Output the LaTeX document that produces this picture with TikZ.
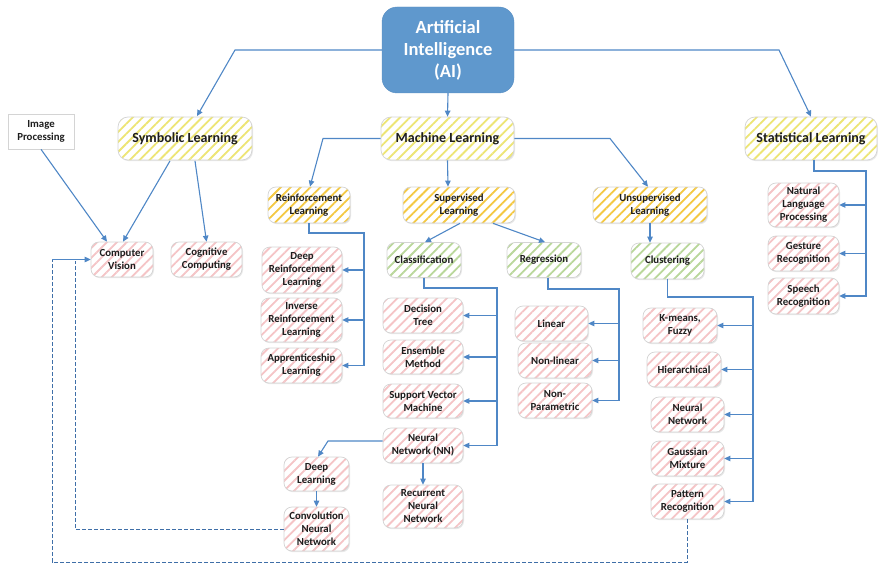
\documentclass[tikz,border=0pt]{standalone}
\usepackage{fontspec}
\setmainfont{Carlito}
\usetikzlibrary{patterns.meta,arrows.meta,shadows,calc}
\definecolor{aiblue}{HTML}{5F98CD}
\definecolor{aiborder}{HTML}{5A8FC2}
\definecolor{lineblue}{HTML}{4F87C6}
\definecolor{dashblue}{HTML}{3F6FA8}
\definecolor{boxborder}{HTML}{D4D4D4}
\definecolor{yelA}{HTML}{EDE574}
\definecolor{goldB}{HTML}{F4C842}
\definecolor{greenC}{HTML}{B9D79A}
\definecolor{pinkD}{HTML}{F5C4C6}
\definecolor{txt}{HTML}{1E1E1E}
\begin{document}
\begin{tikzpicture}[x=1pt,y=-1pt,
  base/.style={draw=boxborder, line width=0.7pt, align=center, inner sep=0pt,
    text=txt, drop shadow={shadow xshift=1pt, shadow yshift=-1.2pt, opacity=0.18, fill=gray},
    preaction={fill=white}},
  small/.style={font=\bfseries\fontsize{10.8}{13}\selectfont},
  stripes/.style={pattern={Lines[angle=45,distance=7pt,line width=1.8pt]}},
  lvA/.style={base, stripes, rounded corners=10pt, pattern color=yelA, font=\bfseries\fontsize{14}{16}\selectfont},
  lvB/.style={base, stripes, rounded corners=8pt, pattern color=goldB, small},
  lvC/.style={base, stripes, rounded corners=8pt, pattern color=greenC, small},
  leaf/.style={base, stripes, rounded corners=8pt, pattern color=pinkD, small},
  plainbox/.style={base, small},
  aibox/.style={draw=aiborder, fill=aiblue, rounded corners=15pt, align=center, inner sep=0pt,
    text=white, font=\bfseries\fontsize{18.5}{22}\selectfont},
  arr/.style={draw=lineblue, line width=1.1pt, -{Triangle[length=6pt,width=5.5pt]}},
  dline/.style={draw=dashblue, line width=0.9pt, dash pattern=on 4pt off 2pt}
]
\useasboundingbox (0,0) rectangle (878,567);

% top
\node[aibox, minimum width=132pt, minimum height=86pt] (ai) at (448,50) {Artificial\\Intelligence\\(AI)};

% level 1
\node[lvA, minimum width=134pt, minimum height=43pt] (sym) at (185,138.5) {Symbolic Learning};
\node[lvA, minimum width=133pt, minimum height=43pt] (ml) at (447.5,138.5) {Machine Learning};
\node[lvA, minimum width=132pt, minimum height=43pt] (stat) at (811,138.5) {Statistical Learning};
\node[plainbox, minimum width=66pt, minimum height=35pt] (ip) at (41,131.5) {Image\\Processing};

% level 2
\node[lvB, minimum width=82pt, minimum height=36pt] (rl) at (309,205) {Reinforcement\\Learning};
\node[lvB, minimum width=112pt, minimum height=36pt] (sup) at (459,205) {Supervised\\Learning};
\node[lvB, minimum width=114pt, minimum height=36pt] (unsup) at (650,205) {Unsupervised\\Learning};

% symbolic children
\node[leaf, minimum width=62pt, minimum height=35pt] (cv) at (122,259.5) {Computer\\Vision};
\node[leaf, minimum width=71pt, minimum height=35pt] (cog) at (206.5,259.5) {Cognitive\\Computing};

% statistical children
\node[leaf, minimum width=71pt, minimum height=44pt] (nlp) at (803.5,205) {Natural\\Language\\Processing};
\node[leaf, minimum width=71pt, minimum height=35pt] (ges) at (803.5,253.5) {Gesture\\Recognition};
\node[leaf, minimum width=71pt, minimum height=36pt] (sp) at (803.5,296) {Speech\\Recognition};

% level 3
\node[lvC, minimum width=74pt, minimum height=35pt] (cls) at (424,260) {Classification};
\node[lvC, minimum width=74pt, minimum height=35pt] (reg) at (544,260) {Regression};
\node[lvC, minimum width=73pt, minimum height=36pt] (clu) at (667.5,261) {Clustering};

% reinforcement children
\node[leaf, minimum width=80pt, minimum height=46pt] (drl) at (302,270) {Deep\\Reinforcement\\Learning};
\node[leaf, minimum width=81pt, minimum height=44pt] (irl) at (301.5,320) {Inverse\\Reinforcement\\Learning};
\node[leaf, minimum width=81pt, minimum height=35pt] (app) at (301.5,365.5) {Apprenticeship\\Learning};

% classification children
\node[leaf, minimum width=80pt, minimum height=35pt] (dt) at (423,315.5) {Decision\\Tree};
\node[leaf, minimum width=80pt, minimum height=34pt] (em) at (423,357) {Ensemble\\Method};
\node[leaf, minimum width=80pt, minimum height=34pt] (svm) at (423,401) {Support Vector\\Machine};
\node[leaf, minimum width=80pt, minimum height=35pt] (nn) at (423,445.5) {Neural\\Network (NN)};
\node[leaf, minimum width=80pt, minimum height=43pt] (rnn) at (423,506.5) {Recurrent\\Neural\\Network};
\node[leaf, minimum width=65pt, minimum height=34pt] (dl) at (316.5,474) {Deep\\Learning};
\node[leaf, minimum width=65pt, minimum height=44pt] (cnn) at (316.5,529) {Convolution\\Neural\\Network};

% regression children
\node[leaf, minimum width=73pt, minimum height=35pt] (lin) at (551.5,323.5) {Linear};
\node[leaf, minimum width=74pt, minimum height=35pt] (nlin) at (555,360.5) {Non-linear};
\node[leaf, minimum width=74pt, minimum height=35pt] (npar) at (555,400.5) {Non-\\Parametric};

% clustering children
\node[leaf, minimum width=74pt, minimum height=35pt] (km) at (680,325.5) {K-means,\\Fuzzy};
\node[leaf, minimum width=74pt, minimum height=35pt] (hier) at (684,369.5) {Hierarchical};
\node[leaf, minimum width=73pt, minimum height=35pt] (nnc) at (687.5,414.5) {Neural\\Network};
\node[leaf, minimum width=73pt, minimum height=35pt] (gau) at (687.5,458.5) {Gaussian\\Mixture};
\node[leaf, minimum width=73pt, minimum height=35pt] (pr) at (687.5,501.5) {Pattern\\Recognition};

% bus coordinates
\coordinate (rlbus) at (364,233);
\coordinate (clsbus) at (497,288);
\coordinate (regbus) at (619,289);
\coordinate (clubus) at (753,297);
\coordinate (statbus) at (866,171);
\coordinate (aiL) at (235,50);
\coordinate (aiR) at (779,50);
\coordinate (mlL) at (323,138.5);
\coordinate (mlR) at (610,138.5);
\coordinate (nnL) at (328,441);
\coordinate (cnnL) at (75,529);
\coordinate (cnnU) at (75,261);
\coordinate (prD) at (687.5,562);
\coordinate (dBL) at (52,562);
\coordinate (dTL) at (52,259.5);

% AI connectors
\draw[arr] (ai.west) -- (aiL) -- ([xshift=12pt]sym.north);
\draw[arr] (ai.east) -- (aiR) -- (stat.north);
\draw[arr] (ai.south) -- (ml.north);

% ML connectors
\draw[arr] (ml.west) -- (mlL) -- ([xshift=1pt]rl.north);
\draw[arr] (ml.south) -- ([xshift=-11pt]sup.north);
\draw[arr] (ml.east) -- (mlR) -- ([xshift=-2pt]unsup.north);

% symbolic
\draw[arr] (ip.south) -- ([xshift=-15pt]cv.north);
\draw[arr] ([xshift=-15pt]sym.south) -- ([xshift=1pt]cv.north);
\draw[arr] ([xshift=10pt]sym.south) -- (cog.north);

% statistical
\foreach \c in {nlp,ges,sp}{\draw[arr] ([xshift=3pt]stat.south) |- (statbus) |- (\c.east);}

% reinforcement
\foreach \c in {drl,irl,app}{\draw[arr] (rl.south) |- (rlbus) |- (\c.east);}

% supervised
\draw[arr] ([xshift=1pt]sup.south) -- ([xshift=1pt]cls.north);
\draw[arr] ([xshift=34pt]sup.south) -- ([xshift=1pt]reg.north);
\foreach \c in {dt,em,svm,nn}{\draw[arr] (cls.south) |- (clsbus) |- (\c.east);}
\foreach \c in {lin,nlin,npar}{\draw[arr] ([xshift=4pt]reg.south) |- (regbus) |- (\c.east);}
\draw[arr] (nn.south) -- (rnn.north);
\draw[arr] ([yshift=4.5pt]nn.west) -- (nnL) -- ([xshift=1.5pt]dl.north);
\draw[arr] (dl.south) -- (cnn.north);

% unsupervised
\draw[arr] (unsup.south) -- (unsup.south |- clu.north);
\foreach \c in {km,hier,nnc,gau,pr}{\draw[arr] (clu.south) |- (clubus) |- (\c.east);}

% dashed feedback to computer vision
\draw[dline] (cnn.west) -- (cnnL) -- (cnnU);
\draw[dline] (pr.south) -- (prD) -- (dBL) -- (dTL);
\draw[arr] (dTL) -- (cv.west);
\end{tikzpicture}
\end{document}
